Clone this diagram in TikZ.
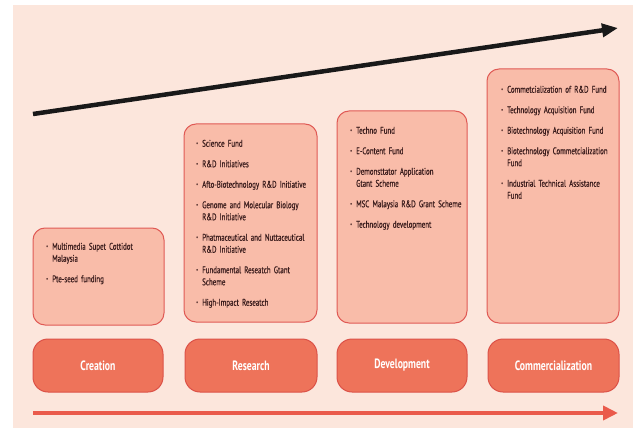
\documentclass[tikz,border=0pt]{standalone}
\usepackage{fontspec}
\setmainfont{PT Sans}[FakeStretch=0.72]
\newfontfamily\listfont{PT Sans}[FakeStretch=0.72, FakeBold=0.5]
\usetikzlibrary{arrows.meta}
\definecolor{bgpeach}{HTML}{FCE6DC}
\definecolor{boxfill}{HTML}{F9BCA9}
\definecolor{boxline}{HTML}{E05A55}
\definecolor{pillfill}{HTML}{EE735A}
\definecolor{pillline}{HTML}{DC5248}
\definecolor{arrowred}{HTML}{EA5A4B}
\definecolor{textdark}{HTML}{3A1C1C}
\newcommand\fitem[1]{\par\noindent\hangindent=6pt\hangafter=1\makebox[6pt][l]{\raisebox{1.6pt}{\scalebox{0.6}{\textbullet}}}#1\par\vspace{8.5pt}}
\tikzset{
  fundbox/.style={draw=boxline, fill=boxfill, line width=1pt, rounded corners=12pt, inner sep=0pt},
  pillbox/.style={draw=pillline, fill=pillfill, line width=1pt, rounded corners=15pt, inner sep=0pt,
    minimum height=53pt, text=white, font=\fontsize{13.5}{14}\selectfont\bfseries},
  listtext/.style={anchor=north west, inner sep=0pt, text width=140pt, text=textdark,
    font=\listfont\fontsize{9.6}{12}\selectfont},
  bigarrow/.style={line width=4.5pt, -{Triangle[length=16pt,width=13pt]}},
}
\begin{document}
\begin{tikzpicture}[x=1pt,y=-1pt]
\useasboundingbox (0,0) rectangle (633,428);
\fill[white] (0,0) rectangle (633,428);
\fill[bgpeach] (13,5) rectangle (633,428);

% top arrow
\coordinate (ts) at (33,114);
\coordinate (te) at (618,28);
\draw[bigarrow, draw=black!90, fill=black!90] (ts) -- (te);

% fund boxes
\node[fundbox, minimum width=131pt, minimum height=97pt] (cbox) at (98.5,276.5) {};
\node[fundbox, minimum width=133pt, minimum height=198pt] (rbox) at (250.5,223) {};
\node[fundbox, minimum width=130pt, minimum height=212pt] (dbox) at (402,217) {};
\node[fundbox, minimum width=132pt, minimum height=254pt] (mbox) at (553,196) {};

% lists
\node[listtext] (clist) at (46,237.5) {%
\fitem{Multimedia Supet Cottidot\newline Malaysia}%
\fitem{Pte-seed funding}};
\node[listtext] (rlist) at (196,134.5) {%
\fitem{Science Fund}%
\fitem{R\&D Initiatives}%
\fitem{Afto-Biotechnology R\&D Initiative}%
\fitem{Genome and Molecular Biology\newline R\&D Initiative}%
\fitem{Phatmaceutical and Nuttaceutical\newline R\&D Initiative}%
\fitem{Fundamental Reseatch Gtant\newline Scheme}%
\fitem{High-Impact Reseatch}};
\node[listtext] (dlist) at (350,121.5) {%
\fitem{Techno Fund}%
\fitem{E-Content Fund}%
\fitem{Demonsttator Application\newline Gtant Scheme}%
\fitem{MSC Malaysia R\&D Grant Scheme}%
\fitem{Technology development}};
\node[listtext] (mlist) at (501,80.5) {%
\fitem{Commetcialization of R\&D Fund}%
\fitem{Technology Acquisition Fund}%
\fitem{Biotechnology Acquisition Fund}%
\fitem{Biotechnology Commetcialization\newline Fund}%
\fitem{Industrial Technical Assistance\newline Fund}};

% stage pills
\node[pillbox, minimum width=130pt] (creation) at (98,365.5) {Creation};
\node[pillbox, minimum width=132pt] (research) at (251,365.5) {Research};
\node[pillbox, minimum width=130pt] (development) at (402,365.5) {Development};
\node[pillbox, minimum width=131pt] (commercial) at (553.5,365.5) {Commercialization};

% bottom arrow
\coordinate (bs) at (33,413);
\coordinate (be) at (618,413);
\draw[line width=4.2pt, draw=arrowred, -{Triangle[length=15pt,width=14pt]}, arrowred] (bs) -- (be);
\end{tikzpicture}
\end{document}
